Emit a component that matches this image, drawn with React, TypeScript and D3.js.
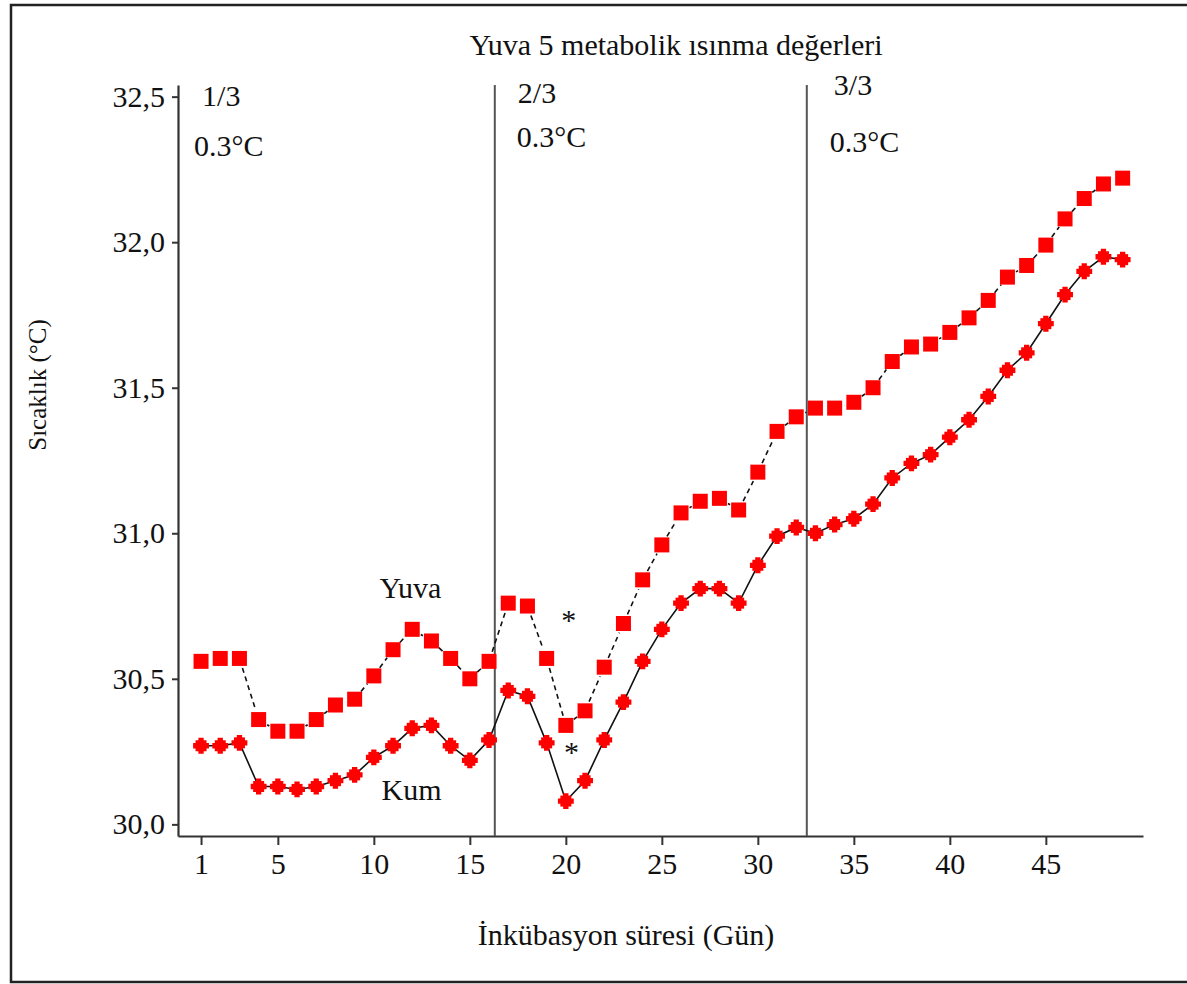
import React, { useEffect, useRef } from 'react';
import * as d3 from 'd3';

// Incubation days
const days = [
  1, 2, 3, 4, 5, 6, 7, 8, 9, 10, 11, 12, 13, 14, 15, 16, 17, 18, 19, 20, 21, 22, 23, 24, 25,
  26, 27, 28, 29, 30, 31, 32, 33, 34, 35, 36, 37, 38, 39, 40, 41, 42, 43, 44, 45, 46, 47, 48, 49,
];

// Nest (Yuva) temperatures
const yuva = [
  30.56, 30.57, 30.57, 30.36, 30.32, 30.32, 30.36, 30.41, 30.43, 30.51, 30.6, 30.67, 30.63,
  30.57, 30.5, 30.56, 30.76, 30.75, 30.57, 30.34, 30.39, 30.54, 30.69, 30.84, 30.96, 31.07,
  31.11, 31.12, 31.08, 31.21, 31.35, 31.4, 31.43, 31.43, 31.45, 31.5, 31.59, 31.64, 31.65,
  31.69, 31.74, 31.8, 31.88, 31.92, 31.99, 32.08, 32.15, 32.2, 32.22,
];

// Sand (Kum) temperatures
const kum = [
  30.27, 30.27, 30.28, 30.13, 30.13, 30.12, 30.13, 30.15, 30.17, 30.23, 30.27, 30.33, 30.34,
  30.27, 30.22, 30.29, 30.46, 30.44, 30.28, 30.08, 30.15, 30.29, 30.42, 30.56, 30.67, 30.76,
  30.81, 30.81, 30.76, 30.89, 30.99, 31.02, 31.0, 31.03, 31.05, 31.1, 31.19, 31.24, 31.27,
  31.33, 31.39, 31.47, 31.56, 31.62, 31.72, 31.82, 31.9, 31.95, 31.94,
];

const xTicks = [1, 5, 10, 15, 20, 25, 30, 35, 40, 45];
const yTicks = [30.0, 30.5, 31.0, 31.5, 32.0, 32.5];

// Trimester boundaries (days) with labels
const phaseLines = [16.3, 32.55];
const phases = [
  { day: 0.95, name: '1/3', diff: '0.3°C' },
  { day: 17.5, name: '2/3', diff: '0.3°C' },
  { day: 33.8, name: '3/3', diff: '0.3°C' },
];

const FONT = '"Liberation Serif", "Times New Roman", serif';

export default function App() {
  const svgRef = useRef<SVGSVGElement>(null);

  useEffect(() => {
    if (!svgRef.current) return;
    const svg = d3.select(svgRef.current);
    svg.selectAll('*').remove();

    const W = 1187;
    const H = 984;

    svg.append('rect').attr('width', W).attr('height', H).attr('fill', '#fff');

    // outer frame
    svg.append('rect')
      .attr('x', 11).attr('y', 5)
      .attr('width', W + 10).attr('height', 977)
      .attr('fill', 'none')
      .attr('stroke', '#222')
      .attr('stroke-width', 2.5);

    const x = d3.scaleLinear().domain([-0.2, 50.06]).range([178, 1143]);
    const y = d3.scaleLinear().domain([29.96, 32.54]).range([836, 85]);

    const fmt = (v: d3.NumberValue) => d3.format('.1f')(+v).replace('.', ',');

    // y axis
    const yAxis = svg.append('g')
      .attr('transform', `translate(${x.range()[0]},0)`)
      .call(d3.axisLeft(y).tickValues(yTicks).tickFormat(fmt).tickSize(6).tickSizeOuter(0).tickPadding(7));

    // x axis
    const xAxis = svg.append('g')
      .attr('transform', `translate(0,${y.range()[0]})`)
      .call(d3.axisBottom(x).tickValues(xTicks).tickSize(9).tickSizeOuter(0).tickPadding(8));

    [yAxis, xAxis].forEach(a => {
      a.select('.domain').attr('stroke', '#333').attr('stroke-width', 2.2);
      a.selectAll('.tick line').attr('stroke', '#333').attr('stroke-width', 2);
      a.selectAll('.tick text')
        .attr('font-family', FONT)
        .attr('font-size', 30)
        .attr('fill', '#111');
    });

    // phase divider lines
    svg.append('g')
      .selectAll('line')
      .data(phaseLines)
      .join('line')
      .attr('x1', d => x(d)).attr('x2', d => x(d))
      .attr('y1', y.range()[1]).attr('y2', y.range()[0])
      .attr('stroke', '#555')
      .attr('stroke-width', 2);

    // phase labels
    const ph = svg.append('g').attr('font-family', FONT).attr('font-size', 30).attr('fill', '#111');
    phases.forEach((p, i) => {
      const yName = [106, 103, 95][i];
      const yDiff = [156, 147, 152][i];
      ph.append('text').attr('x', x(p.day) + (i === 0 ? 2 : i === 2 ? 3 : 0)).attr('y', yName).text(p.name);
      ph.append('text').attr('x', x(p.day) - (i === 0 ? 6 : 1)).attr('y', yDiff).text(p.diff);
    });

    // title
    svg.append('text')
      .attr('x', 676).attr('y', 55)
      .attr('text-anchor', 'middle')
      .attr('font-family', FONT).attr('font-size', 30).attr('fill', '#111')
      .text('Yuva 5 metabolik ısınma değerleri');

    // axis titles
    svg.append('text')
      .attr('x', 626).attr('y', 945)
      .attr('text-anchor', 'middle')
      .attr('font-family', FONT).attr('font-size', 30).attr('fill', '#111')
      .text('İnkübasyon süresi (Gün)');

    svg.append('text')
      .attr('transform', 'translate(46,385) rotate(-90)')
      .attr('text-anchor', 'middle')
      .attr('font-family', FONT).attr('font-size', 25).attr('fill', '#111')
      .text('Sıcaklık (°C)');

    const yuvaPts = days.map((d, i) => [x(d), y(yuva[i])] as [number, number]);
    const kumPts = days.map((d, i) => [x(d), y(kum[i])] as [number, number]);

    // Yuva: dashed segments with gaps near markers
    const gap = 10;
    const segs = d3.pairs(yuvaPts).map(([a, b]) => {
      const dx = b[0] - a[0], dy = b[1] - a[1];
      const len = Math.hypot(dx, dy);
      if (len <= gap * 2) return null;
      const ux = dx / len, uy = dy / len;
      return [a[0] + ux * gap, a[1] + uy * gap, b[0] - ux * gap, b[1] - uy * gap];
    }).filter(Boolean) as number[][];

    svg.append('g')
      .selectAll('line')
      .data(segs)
      .join('line')
      .attr('x1', d => d[0]).attr('y1', d => d[1])
      .attr('x2', d => d[2]).attr('y2', d => d[3])
      .attr('stroke', '#111')
      .attr('stroke-width', 1.6)
      .attr('stroke-dasharray', '5,4');

    // Kum: solid line
    svg.append('path')
      .datum(kumPts)
      .attr('fill', 'none')
      .attr('stroke', '#111')
      .attr('stroke-width', 1.6)
      .attr('d', d3.line());

    // Yuva markers: squares
    svg.append('g')
      .selectAll('rect')
      .data(yuvaPts)
      .join('rect')
      .attr('x', d => d[0] - 7.5).attr('y', d => d[1] - 7.5)
      .attr('width', 15).attr('height', 15)
      .attr('fill', '#ff0000');

    // Kum markers: square with cross
    const kg = svg.append('g').attr('fill', '#ff0000');
    kg.selectAll('rect')
      .data(kumPts)
      .join('rect')
      .attr('x', d => d[0] - 5.5).attr('y', d => d[1] - 5.5)
      .attr('width', 11).attr('height', 11);
    kg.selectAll('path')
      .data(kumPts)
      .join('path')
      .attr('transform', d => `translate(${d[0]},${d[1]})`)
      .attr('d', d3.symbol(d3.symbolCross, 140)());

    // series labels
    const lab = svg.append('g').attr('font-family', FONT).attr('font-size', 30).attr('fill', '#111');
    lab.append('text').attr('x', x(10.3)).attr('y', 598).text('Yuva');
    lab.append('text').attr('x', x(10.4)).attr('y', 800).text('Kum');

    // significance asterisks
    lab.append('text').attr('x', x(20.15)).attr('y', 630).attr('text-anchor', 'middle').text('*');
    lab.append('text').attr('x', x(20.3)).attr('y', 762).attr('text-anchor', 'middle').text('*');
  }, []);

  return (
    <svg
      ref={svgRef}
      width={1187}
      height={984}
      style={{ position: 'absolute', left: 0, top: 0 }}
    />
  );
}
